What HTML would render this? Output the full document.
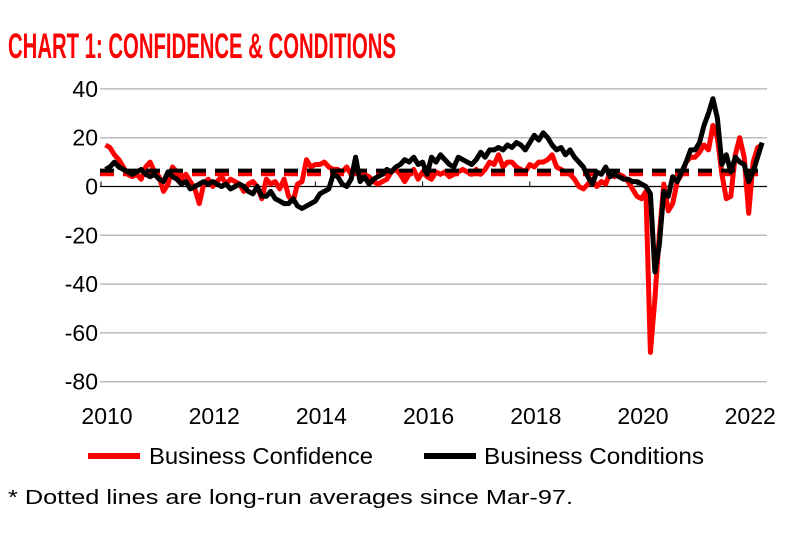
<!DOCTYPE html>
<html><head><meta charset="utf-8"><style>
html,body{margin:0;padding:0;background:#fff;}
svg{display:block;font-family:"Liberation Sans",sans-serif;}
</style></head><body>
<svg id="chart" width="801" height="533" viewBox="0 0 801 533">
<text x="8" y="58" font-size="35" font-weight="bold" fill="#ff0000" textLength="388" lengthAdjust="spacingAndGlyphs">CHART 1: CONFIDENCE &amp; CONDITIONS</text>
<g id="grid"></g>
<g id="yaxis"></g>
<g id="xaxis"></g>
<g id="series"></g>
<g>
<line x1="88" y1="456" x2="140" y2="456" stroke="#ff0000" stroke-width="6"/>
<text x="149" y="464" font-size="23" fill="#000" textLength="224" lengthAdjust="spacingAndGlyphs">Business Confidence</text>
<line x1="424" y1="456" x2="476" y2="456" stroke="#000" stroke-width="6"/>
<text x="484" y="464" font-size="23" fill="#000" textLength="220" lengthAdjust="spacingAndGlyphs">Business Conditions</text>
</g>
<text x="8" y="504" font-size="20" fill="#000" textLength="565" lengthAdjust="spacingAndGlyphs">* Dotted lines are long-run averages since Mar-97.</text>
</svg>
<script>
const yTicks = [40, 20, 0, -20, -40, -60, -80];
const xTicks = [2010, 2012, 2014, 2016, 2018, 2020, 2022];
const startYear = 2010;
const confidence = [
17,16,13,11,8,5,4,5,3,8,10,6,
4,-2,1,8,6,3,5,2,-1,-7,1,3,
0,2,4,1,3,2,1,-2,1,2,0,-5,
3,1,2,-1,3,-4,-6,1,2,11,8,9,
9,10,8,7,7,6,8,5,8,6,5,4,
2,1,2,3,6,7,5,2,5,7,3,6,
4,3,6,5,6,4,5,6,7,6,5,7,
5,7,10,9,13,8,10,10,8,7,6,9,
8,10,10,11,13,8,7,6,5,3,0,-1,
1,3,0,2,1,6,4,5,4,2,-1,-4,
-5,-2,-68,-46,-20,1,-10,-7,2,5,10,12,
12,14,17,15,25,20,5,-5,-4,13,20,12,
-11,10,16,17
];
const conditions = [
7,8,10,8,7,6,5,6,7,5,4,5,
3,2,6,4,3,1,2,-1,0,1,2,1,
2,1,0,1,-1,0,1,0,-2,-3,0,-4,
-4,-2,-5,-6,-7,-7,-5,-8,-9,-8,-7,-6,
-3,-2,-1,5,4,1,0,3,12,2,4,1,
3,4,5,7,6,8,9,11,10,12,9,10,
5,12,10,13,11,9,8,12,11,10,9,11,
14,12,15,15,16,15,17,16,18,17,15,18,
21,19,22,20,17,15,16,13,15,12,10,8,
4,1,6,5,8,4,5,4,3,3,2,2,
1,0,-3,-35,-24,-2,-4,4,2,6,10,15,
15,18,25,30,36,28,9,13,6,12,10,9,
2,6,12,18
];
const confAvg = 5;
const condAvg = 6.5;

const NS = "http://www.w3.org/2000/svg";
const x0 = 101, pxPerYear = 53.6;
const yZero = 186.5, pxPerUnit = 2.44;
function xs(t){ return x0 + (t - startYear) * pxPerYear; }
function ys(v){ return yZero - v * pxPerUnit; }
function mk(tag, attrs, parent){ const e = document.createElementNS(NS, tag); for (const k in attrs) e.setAttribute(k, attrs[k]); parent.appendChild(e); return e; }

const grid = document.getElementById('grid');
const yaxis = document.getElementById('yaxis');
const xaxis = document.getElementById('xaxis');
const series = document.getElementById('series');

yTicks.forEach(v => {
  if (v !== 0) {
    const l = mk('line', {x1: 100, x2: 767, y1: ys(v), y2: ys(v), stroke: '#bdbdbd', 'stroke-width': 1.5}, grid);
    
    
  }
  const t = mk('text', {x: 98, y: ys(v) + 8, 'font-size': 23, 'text-anchor': 'end', fill: '#000'}, yaxis);
  t.textContent = v;
  
  
});

xTicks.forEach(yr => {
  const t = mk('text', {x: xs(yr) + 6, y: 424, 'font-size': 23, 'text-anchor': 'middle', fill: '#000'}, xaxis);
  t.textContent = yr;
  
  
});
const zl = mk('line', {x1: 100, x2: 767, y1: ys(0), y2: ys(0), stroke: '#000', 'stroke-width': 1.2}, xaxis);


xTicks.forEach(yr => {
  const tk = mk('line', {x1: xs(yr), x2: xs(yr), y1: ys(0), y2: ys(0) - 5, stroke: '#000', 'stroke-width': 1}, xaxis);
  
  
});

function avgLine(v, color, name){
  const l = mk('line', {x1: 100, x2: 767, y1: ys(v), y2: ys(v), stroke: color, 'stroke-width': 4, 'stroke-dasharray': '14 9'}, series);
  
  
}
function path(vals, color, name){
  const d = vals.map((v, i) => (i ? 'L' : 'M') + xs(startYear + (i + 1) / 12).toFixed(1) + ',' + ys(v).toFixed(1)).join('');
  const p = mk('path', {d: d, fill: 'none', stroke: color, 'stroke-width': 5, 'stroke-linejoin': 'round'}, series);
  
  
}
avgLine(confAvg, '#ff0000', 'confidence-average-line');
path(confidence, '#ff0000', 'business-confidence-line');
path(conditions, '#000000', 'business-conditions-line');
avgLine(condAvg, '#000000', 'conditions-average-line');
</script>
</body></html>
